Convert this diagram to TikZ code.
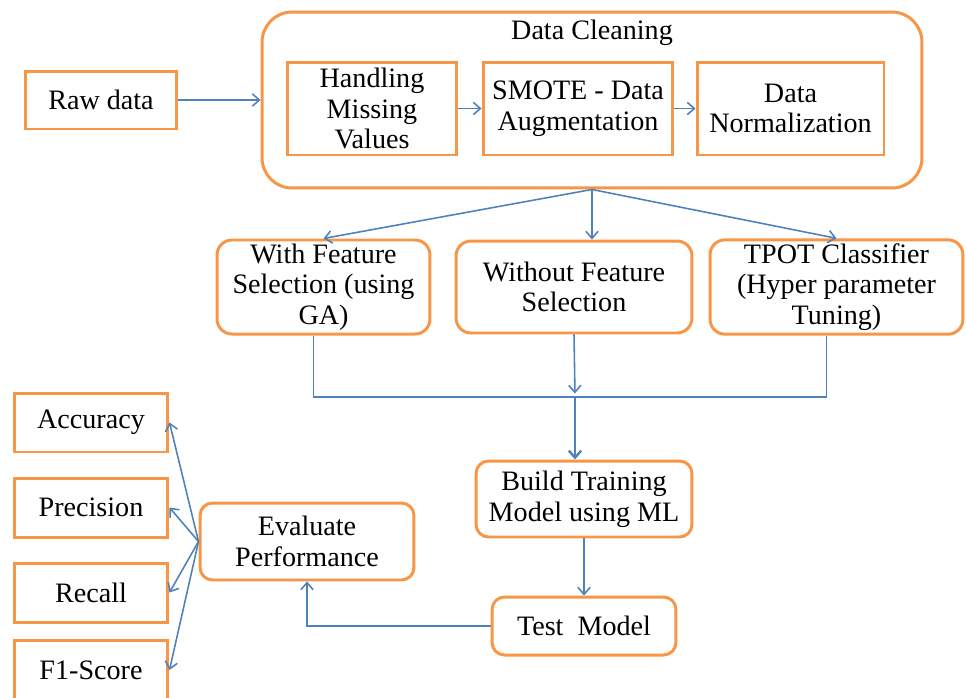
\documentclass[tikz,border=0pt]{standalone}
\usepackage{fontspec}
\setmainfont{Liberation Serif}
\usetikzlibrary{arrows.meta,positioning,calc}

\definecolor{boxorange}{HTML}{F79646}
\definecolor{linkblue}{HTML}{4F81BD}

\tikzset{
  box/.style={draw=boxorange, line width=1.7pt, fill=white, align=center, inner sep=2pt, font=\fontsize{16}{17.5}\selectfont},
  rbox/.style={box, rounded corners=0.3cm},
  link/.style={draw=linkblue, line width=0.9pt},
  arr/.style={link, -{Straight Barb[length=4pt,width=7pt]}}
}

\begin{document}
\begin{tikzpicture}[x=0.02cm,y=-0.02cm]
    \clip (0,0) rectangle (966,697);

    % Data cleaning block
    \node[box, rounded corners=0.6cm, minimum width=13.2cm, minimum height=3.52cm] (clean) at (592,100) {};
    \node[font=\fontsize{16}{17.5}\selectfont] (cleantitle) at (592,33) {Data Cleaning};
    \node[box, minimum width=3.4cm, minimum height=1.86cm] (miss) at (372,108.5) {Handling\\Missing\\Values};
    \node[box, minimum width=3.8cm, minimum height=1.86cm] (smote) at (578,108.5) {SMOTE - Data\\Augmentation};
    \node[box, minimum width=3.74cm, minimum height=1.86cm] (norm) at (790.5,108.5) {Data\\Normalization};
    \node[box, minimum width=3.04cm, minimum height=1.16cm] (raw) at (101,100) {Raw data};

    \draw[arr] (raw) -- (clean);
    \draw[arr] (miss) -- (smote);
    \draw[arr] (smote) -- (norm);

    % Three model set-ups
    \node[rbox, minimum width=4.26cm, minimum height=1.84cm] (feat) at (323.5,287) {With Feature\\Selection (using\\GA)};
    \node[rbox, minimum width=4.72cm, minimum height=1.84cm] (nofeat) at (574,287) {Without Feature\\Selection};
    \node[rbox, minimum width=5.06cm, minimum height=1.84cm] (tpot) at (836.5,287) {TPOT Classifier\\(Hyper parameter\\Tuning)};

    \draw[arr] (clean.south) -- (feat.north);
    \draw[arr] (clean.south) -- (clean.south |- nofeat.north);
    \draw[arr] (clean.south) -- (tpot.north);

    % Merge into training
    \coordinate (join) at (575,397);
    \draw[link] ([xshift=-0.2cm]feat.south) |- (join) -| ([xshift=-0.2cm]tpot.south);
    \draw[arr, shorten >=2pt] (nofeat.south) -- (join);

    \node[rbox, rounded corners=0.25cm, minimum width=4.32cm, minimum height=1.52cm] (build) at (584,499) {Build Training\\Model using ML};
    \node[rbox, rounded corners=0.25cm, minimum width=3.68cm, minimum height=1.16cm] (test) at (584,626) {Test\ \ Model};
    \node[rbox, rounded corners=0.25cm, minimum width=4.28cm, minimum height=1.54cm] (eval) at (307,541.5) {Evaluate\\Performance};

    \draw[arr, line width=1.4pt] (join) -- (join |- build.north);
    \draw[arr] (build) -- (test);
    \draw[arr] (test.west) -| (eval.south);

    % Metrics
    \node[box, minimum width=3.08cm, minimum height=1.18cm] (acc) at (91,422.5) {Accuracy};
    \node[box, minimum width=3.08cm, minimum height=1.18cm] (prec) at (91,507.5) {Precision};
    \node[box, minimum width=3.08cm, minimum height=1.18cm] (rec) at (91,592.5) {Recall};
    \node[box, minimum width=3.08cm, minimum height=1.18cm] (fone) at (91,670) {F1-Score};

    \foreach \m in {acc,prec,rec,fone}
        \draw[arr] (eval.west) -- (\m.east);

\end{tikzpicture}
\end{document}
